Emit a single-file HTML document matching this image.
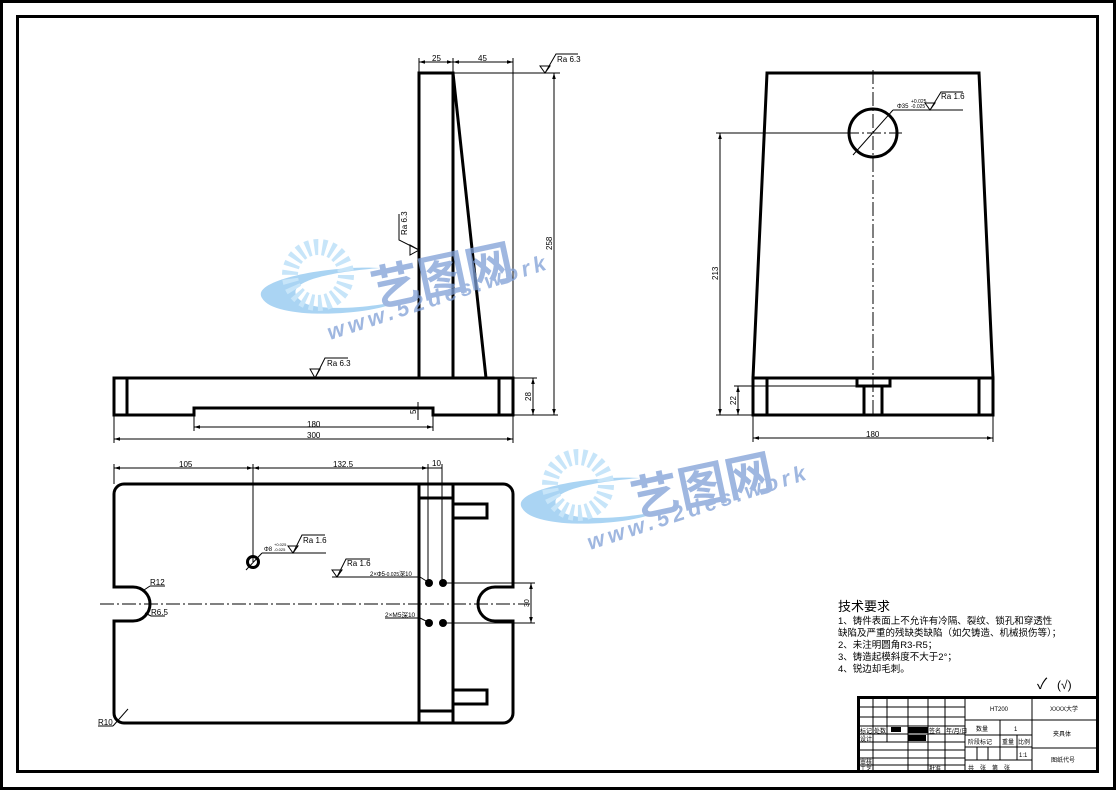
<!DOCTYPE html>
<html><head><meta charset="utf-8"><style>
html,body{margin:0;padding:0;background:#fff;}
svg{display:block;}
text{font-family:"Liberation Sans","Noto Sans CJK SC",sans-serif;fill:#000;}
.t{stroke:#000;stroke-width:3;fill:none;}
.n{stroke:#000;stroke-width:1;fill:none;}
.c{stroke:#000;stroke-width:1;fill:none;stroke-dasharray:14 3 2 3;}
.d{font-size:8px;}
</style></head><body>
<svg width="1116" height="790" viewBox="0 0 1116 790" xmlns="http://www.w3.org/2000/svg">
<defs>
<marker id="a" viewBox="0 0 10 10" refX="10" refY="5" markerWidth="6" markerHeight="6" orient="auto-start-reverse"><path d="M0,2 L10,5 L0,8" fill="#000"/></marker>
</defs>
<rect x="1.5" y="1.5" width="1113" height="787" class="t"/>
<rect x="17.5" y="16.5" width="1080" height="755" class="t"/>

<!-- FRONT VIEW -->
<rect x="419" y="73" width="34" height="305" class="t"/>
<line x1="453" y1="73" x2="486" y2="378" class="t"/>
<path d="M114,378 H513 V415 H433 V408 H194 V415 H114 Z" class="t"/>
<line x1="127" y1="378" x2="127" y2="415" class="t"/>
<line x1="499" y1="378" x2="499" y2="415" class="t"/>
<g class="n">
<line x1="419" y1="58" x2="419" y2="73"/><line x1="453" y1="58" x2="453" y2="73"/><line x1="513" y1="58" x2="513" y2="378"/>
<line x1="419" y1="62" x2="453" y2="62" marker-start="url(#a)" marker-end="url(#a)"/>
<line x1="453" y1="62" x2="513" y2="62" marker-start="url(#a)" marker-end="url(#a)"/>
<line x1="453" y1="73" x2="560" y2="73"/>
<line x1="554" y1="73" x2="554" y2="415" marker-start="url(#a)" marker-end="url(#a)"/>
<line x1="513" y1="415" x2="558" y2="415"/>
<line x1="513" y1="378" x2="537" y2="378"/>
<line x1="533" y1="378" x2="533" y2="415" marker-start="url(#a)" marker-end="url(#a)"/>
<line x1="194" y1="415" x2="194" y2="431"/><line x1="433" y1="415" x2="433" y2="431"/>
<line x1="194" y1="427" x2="433" y2="427" marker-start="url(#a)" marker-end="url(#a)"/>
<line x1="114" y1="415" x2="114" y2="443"/><line x1="513" y1="415" x2="513" y2="443"/>
<line x1="114" y1="439" x2="513" y2="439" marker-start="url(#a)" marker-end="url(#a)"/>
<line x1="418" y1="402" x2="418" y2="420"/>
<path d="M540,66 L550,66 L545,73 Z M545,73 L556,54 H578"/>
<path d="M310,369 L320,369 L315,378 Z M315,378 L325,358 H348"/>
<path d="M410,245 L410,255 L419,250 Z M419,250 L399,240 V214"/>
</g>
<text x="432" y="61" class="d">25</text><text x="478" y="61" class="d">45</text>
<text x="557" y="62" class="d">Ra 6.3</text>
<text x="327" y="366" class="d">Ra 6.3</text>
<text x="307" y="427" class="d">180</text><text x="307" y="438" class="d">300</text>
<text transform="translate(552,250) rotate(-90)" class="d">258</text>
<text transform="translate(531,401) rotate(-90)" class="d">28</text>
<text transform="translate(416,414) rotate(-90)" class="d">5</text>
<text transform="translate(407,235) rotate(-90)" class="d">Ra 6.3</text>

<!-- SIDE VIEW -->
<path d="M767,73 H979 L993,378 H753 Z" class="t"/>
<rect x="753" y="378" width="240" height="37" class="t"/>
<line x1="767" y1="378" x2="767" y2="415" class="t"/>
<line x1="979" y1="378" x2="979" y2="415" class="t"/>
<path d="M857,378 V386 H890 V378" class="t"/>
<path d="M864,386 V415 M882,386 V415" class="t"/>
<circle cx="873" cy="133" r="24" class="t"/>
<line x1="873" y1="70" x2="873" y2="415" class="c"/>
<line x1="845" y1="133" x2="902" y2="133" class="c"/>
<g class="n">
<line x1="716" y1="133" x2="848" y2="133"/>
<line x1="720" y1="133" x2="720" y2="415" marker-start="url(#a)" marker-end="url(#a)"/>
<line x1="716" y1="415" x2="753" y2="415"/>
<line x1="734" y1="386" x2="864" y2="386"/>
<line x1="738" y1="386" x2="738" y2="415" marker-start="url(#a)" marker-end="url(#a)"/>
<line x1="753" y1="415" x2="753" y2="442"/><line x1="993" y1="415" x2="993" y2="442"/>
<line x1="753" y1="438" x2="993" y2="438" marker-start="url(#a)" marker-end="url(#a)"/>
<line x1="853" y1="155" x2="893" y2="110"/>
<line x1="893" y1="110" x2="963" y2="110"/>
<path d="M925,103 L935,103 L930,110 Z M930,110 L941,92 H963"/>
</g>
<text x="897" y="108" font-size="6">Φ35</text><text x="911" y="103" font-size="5">+0.025</text><text x="911" y="108" font-size="5">-0.025</text>
<text x="941" y="99" class="d">Ra 1.6</text>
<text transform="translate(718,280) rotate(-90)" class="d">213</text>
<text transform="translate(736,405) rotate(-90)" class="d">22</text>
<text x="866" y="437" class="d">180</text>

<!-- TOP VIEW -->
<path d="M124,484 H503 A10,10 0 0 1 513,494 V587 H495 A17,17 0 0 0 495,621 H513 V713 A10,10 0 0 1 503,723 H124 A10,10 0 0 1 114,713 V621 H133 A17,17 0 0 0 133,587 H114 V494 A10,10 0 0 1 124,484 Z" class="t"/>
<line x1="419" y1="484" x2="419" y2="723" class="t"/>
<line x1="453" y1="484" x2="453" y2="723" class="t"/>
<line x1="419" y1="498" x2="453" y2="498" class="t"/>
<line x1="419" y1="711" x2="453" y2="711" class="t"/>
<path d="M453,504 H487 V518 H453 M453,690 H487 V704 H453" class="t"/>
<line x1="100" y1="604" x2="530" y2="604" class="c"/>
<circle cx="253" cy="562" r="5.5" class="t"/>
<circle cx="429" cy="583" r="4" fill="#000"/><circle cx="443" cy="583" r="4" fill="#000"/>
<circle cx="429" cy="623" r="4" fill="#000"/><circle cx="443" cy="623" r="4" fill="#000"/>
<g class="n">
<line x1="114" y1="464" x2="114" y2="484"/><line x1="253" y1="464" x2="253" y2="562"/>
<line x1="428" y1="464" x2="428" y2="583"/><line x1="442" y1="464" x2="442" y2="583"/>
<line x1="114" y1="468" x2="253" y2="468" marker-start="url(#a)" marker-end="url(#a)"/>
<line x1="253" y1="468" x2="428" y2="468" marker-start="url(#a)" marker-end="url(#a)"/>
<line x1="428" y1="468" x2="442" y2="468"/>
<line x1="443" y1="583" x2="535" y2="583"/><line x1="443" y1="623" x2="535" y2="623"/>
<line x1="531" y1="583" x2="531" y2="623" marker-start="url(#a)" marker-end="url(#a)"/>
<line x1="246" y1="570" x2="262" y2="553"/>
<line x1="262" y1="553" x2="326" y2="553"/>
<path d="M288,546 L298,546 L293,553 Z M293,553 L302,535 H325"/>
<line x1="332" y1="577" x2="420" y2="577"/><line x1="420" y1="577" x2="428" y2="582"/>
<path d="M332,570 L342,570 L337,577 Z M337,577 L346,559 H370"/>
<line x1="385" y1="618" x2="420" y2="618"/><line x1="420" y1="618" x2="428" y2="622"/>
<line x1="144" y1="590" x2="150" y2="586"/><line x1="150" y1="586" x2="165" y2="586"/>
<line x1="145" y1="613" x2="151" y2="616"/><line x1="151" y1="616" x2="165" y2="616"/>
<line x1="113" y1="726" x2="128" y2="709"/><line x1="98" y1="726" x2="113" y2="726"/>
</g>
<text x="179" y="467" class="d">105</text><text x="333" y="467" class="d">132.5</text><text x="432" y="466" class="d">10</text>
<text x="264" y="551" font-size="6">Φ8</text><text x="274" y="546" font-size="4">+0.025</text><text x="274" y="551" font-size="4">-0.025</text>
<text x="303" y="543" class="d">Ra 1.6</text><text x="347" y="566" class="d">Ra 1.6</text>
<text x="370" y="576" font-size="6">2×Φ5<tspan font-size="5">-0.025</tspan>深10</text>
<text x="385" y="617" font-size="6.5">2×M5深10</text>
<text x="150" y="585" class="d">R12</text><text x="151" y="615" class="d">R6.5</text>
<text x="98" y="725" class="d">R10</text>
<text transform="translate(529,607) rotate(-90)" font-size="7">30</text>

<!-- tech requirements -->
<text x="838" y="611" font-size="13">技术要求</text>
<g font-size="9.5">
<text x="838" y="624">1、铸件表面上不允许有冷隔、裂纹、锁孔和穿透性</text>
<text x="838" y="636">缺陷及严重的残缺类缺陷（如欠铸造、机械损伤等）；</text>
<text x="838" y="648">2、未注明圆角R3-R5；</text>
<text x="838" y="660">3、铸造起模斜度不大于2°；</text>
<text x="838" y="672">4、锐边却毛刺。</text>
</g>
<text x="1037" y="689" font-size="15">✓</text>
<text x="1057" y="689" font-size="12">(√)</text>

<!-- title block -->
<rect x="858.5" y="697.5" width="239" height="74" fill="#fff" stroke="#000" stroke-width="3"/>
<g class="n">
<line x1="965" y1="697" x2="965" y2="772"/><line x1="1032" y1="697" x2="1032" y2="772"/>
<path d="M858,707 H965 M858,717 H965 M858,726 H965 M858,734 H965 M858,742 H965 M858,750 H965 M858,758 H965 M858,765 H965"/>
<path d="M873,697 V772 M887,697 V742 M908,697 V772 M928,697 V772 M945,697 V772"/>
<path d="M965,720 H1097 M965,735 H1032 M965,747 H1032 M965,760 H1032 M1032,748 H1097"/>
<path d="M1000,720 V760 M1017,735 V760 M977,747 V760 M988,747 V760"/>
</g>
<rect x="891" y="727" width="10" height="5" fill="#000"/>
<rect x="908" y="727" width="20" height="6" fill="#000"/>
<rect x="908" y="735" width="18" height="6" fill="#000"/>
<g font-size="6">
<text x="860" y="733">标记</text><text x="874" y="733">处数</text><text x="929" y="733">签名</text><text x="946" y="733">年/月/日</text>
<text x="860" y="741">设计</text><text x="860" y="764">审核</text><text x="860" y="771">工艺</text><text x="929" y="771">批准</text>
<text x="990" y="711">HT200</text><text x="1050" y="711">XXXX大学</text>
<text x="976" y="731">数量</text><text x="1014" y="731">1</text><text x="1053" y="736">夹具体</text>
<text x="968" y="744">阶段标记</text><text x="1002" y="744">重量</text><text x="1018" y="744">比例</text>
<text x="1019" y="757">1:1</text><text x="1051" y="762">图纸代号</text>
<text x="968" y="770">共　张　第　张</text>
</g>

<!-- watermarks -->
<g opacity="0.75">
<g>
<path d="M262,298 C250,280 330,265 380,268 C330,272 280,282 300,300 C315,315 390,305 400,300 C380,315 275,322 262,298 Z" fill="#8ec6ef"/>
<circle cx="318" cy="275" r="28" fill="none" stroke="#b5dcf7" stroke-width="16" stroke-dasharray="4 4"/>
<text x="368" y="293" font-size="48" font-weight="bold" transform="rotate(-12 440 265)" style="fill:#7f9fd6">艺图网</text>
<text x="330" y="340" font-size="22" font-weight="bold" font-style="italic" letter-spacing="4" transform="rotate(-18 330 340)" style="fill:#7f9fd6">www.52des.work</text>
</g>
<g transform="translate(260,210)">
<path d="M262,298 C250,280 330,265 380,268 C330,272 280,282 300,300 C315,315 390,305 400,300 C380,315 275,322 262,298 Z" fill="#8ec6ef"/>
<circle cx="318" cy="275" r="28" fill="none" stroke="#b5dcf7" stroke-width="16" stroke-dasharray="4 4"/>
<text x="368" y="293" font-size="48" font-weight="bold" transform="rotate(-12 440 265)" style="fill:#7f9fd6">艺图网</text>
<text x="330" y="340" font-size="22" font-weight="bold" font-style="italic" letter-spacing="4" transform="rotate(-18 330 340)" style="fill:#7f9fd6">www.52des.work</text>
</g>
</g>
</svg>
</body></html>
